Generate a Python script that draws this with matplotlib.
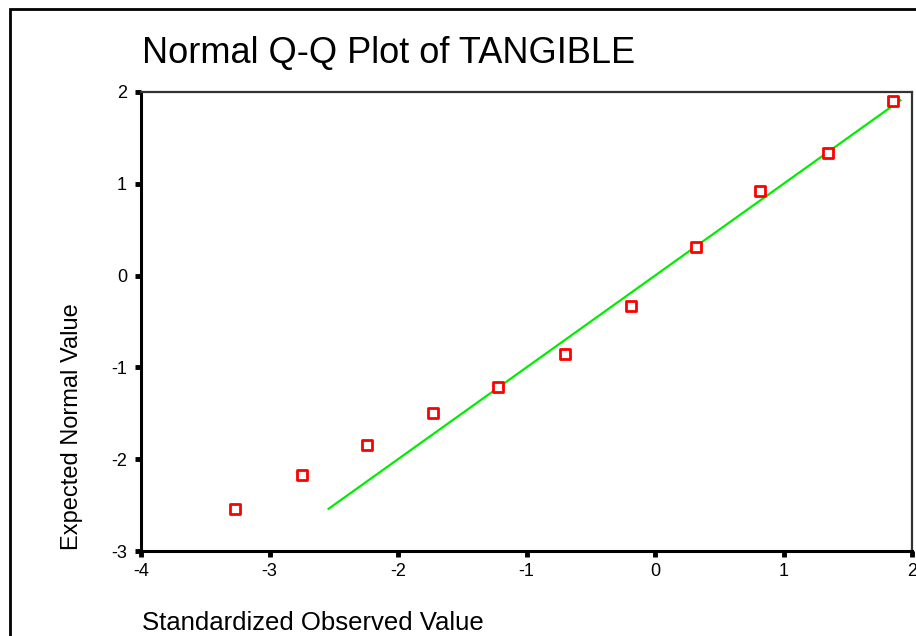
import matplotlib
matplotlib.use("Agg")
import matplotlib.pyplot as plt
from matplotlib.patches import Rectangle

plt.rcParams['font.family'] = ['Liberation Sans', 'DejaVu Sans']

# Standardized observed values and the matching expected normal quantiles
observed = [-3.27, -2.75, -2.24, -1.73, -1.22, -0.70, -0.19, 0.32, 0.82, 1.35, 1.85]
expected = [-2.54, -2.17, -1.85, -1.50, -1.21, -0.85, -0.33, 0.31, 0.92, 1.34, 1.90]

# Reference line y = x over the range of expected values
ref_line = [-2.54, 1.91]

x_ticks = [-4, -3, -2, -1, 0, 1, 2]
y_ticks = [-3, -2, -1, 0, 1, 2]

W, H = 916, 636
fig = plt.figure(figsize=(W / 100, H / 100), dpi=100)
fig.patch.set_facecolor('white')

# outer chart frame (extends past the right and bottom edges)
fig.patches.append(Rectangle((9.5 / W, -0.1), 1.2, 1 - 8.5 / H + 0.1,
                             transform=fig.transFigure, fill=False,
                             edgecolor='black', linewidth=2.0, zorder=0))

ax = fig.add_axes([141 / W, 1 - 551 / H, (912 - 141) / W, (551 - 92) / H])
ax.set_xlim(-4, 2)
ax.set_ylim(-3, 2)

ax.plot(ref_line, ref_line, color='#00ee00', linewidth=1.6, zorder=2)
ax.scatter(observed, expected, marker='s', s=42, facecolors='white',
           edgecolors='#ff0000', linewidths=2.0, zorder=3)

ax.set_xticks(x_ticks)
ax.set_yticks(y_ticks)
ax.set_xticklabels([str(v) for v in x_ticks])
ax.set_yticklabels([str(v) for v in y_ticks])
ax.tick_params(axis='both', direction='out', length=4, width=3.5,
               labelsize=13, color='black')
ax.tick_params(axis='x', pad=5)
ax.tick_params(axis='y', pad=6)

for side in ('left', 'bottom'):
    ax.spines[side].set_linewidth(2.2)
    ax.spines[side].set_color('black')
for side in ('top', 'right'):
    ax.spines[side].set_linewidth(1.6)
    ax.spines[side].set_color('#333333')

fig.text(142 / W, 1 - 63 / H, 'Normal Q-Q Plot of TANGIBLE',
         fontsize=26, ha='left', va='baseline')
fig.text(142 / W, 1 - 630 / H, 'Standardized Observed Value',
         fontsize=18.5, ha='left', va='baseline')
fig.text(72 / W, 1 - 550 / H, 'Expected Normal Value',
         fontsize=17, rotation=90, ha='center', va='bottom')

fig.savefig('out.png', dpi=100)
